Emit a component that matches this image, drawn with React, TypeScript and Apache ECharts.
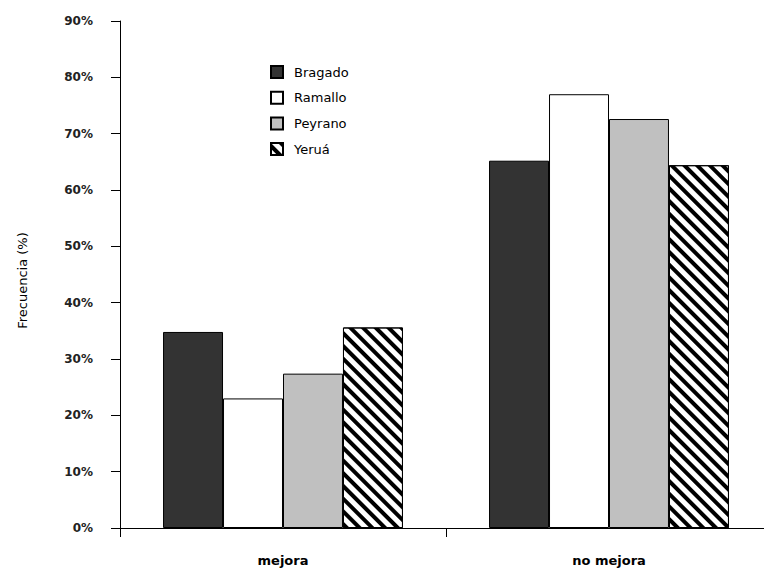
import React, { useEffect, useRef } from "react";
import * as echarts from "echarts";

// Frequency of each outcome per locality (%)
const categories = ["mejora", "no mejora"];
const seriesNames = ["Bragado", "Ramallo", "Peyrano", "Yeruá"];
const bragado = [34.8, 65.2];
const ramallo = [23.0, 77.0];
const peyrano = [27.4, 72.6];
const yerua = [35.6, 64.4];
const yTicks = [0, 10, 20, 30, 40, 50, 60, 70, 80, 90];

const FONT = "DejaVu Sans";

export default function App() {
  const ref = useRef<HTMLDivElement>(null);

  useEffect(() => {
    document.body.style.margin = "0";
    document.body.style.overflow = "hidden";
    if (!ref.current) return;
    const chart = echarts.init(ref.current, null, { renderer: "svg" });

    const border = { borderColor: "#000", borderWidth: 1 };

    chart.setOption({
      animation: false,
      backgroundColor: "#fff",
      // the plot runs a little past the right edge of the visible page
      grid: { left: 120, top: 21, width: 652, height: 507 },
      legend: {
        orient: "vertical",
        left: 270,
        top: 65,
        padding: 0,
        itemWidth: 12,
        itemHeight: 12,
        itemGap: 11.7,
        icon: "rect",
        textStyle: { fontFamily: FONT, fontSize: 13, color: "#000", padding: [0, 0, 0, 6] },
        data: seriesNames,
      },
      xAxis: {
        type: "category",
        data: categories,
        axisLine: { lineStyle: { color: "#000", width: 1 } },
        axisTick: { show: true, length: 9, alignWithLabel: false, lineStyle: { color: "#000" } },
        axisLabel: {
          margin: 26,
          fontFamily: FONT,
          fontSize: 13,
          fontWeight: "bold",
          color: "#000",
        },
      },
      yAxis: {
        type: "value",
        min: 0,
        max: 90,
        interval: 10,
        name: "Frecuencia (%)",
        nameLocation: "middle",
        nameGap: 91,
        nameTextStyle: { fontFamily: FONT, fontSize: 13, color: "#000", padding: [0, 12, 0, 0] },
        splitLine: { show: false },
        axisLine: { show: true, lineStyle: { color: "#000", width: 1 } },
        axisTick: { show: true, length: 9, lineStyle: { color: "#000" } },
        axisLabel: {
          margin: 27,
          fontFamily: FONT,
          fontSize: 12,
          fontWeight: "bold",
          color: "#222",
          formatter: (v: number) => (yTicks.includes(v) ? `${v}%` : ""),
        },
      },
      series: [
        {
          name: seriesNames[0],
          type: "bar",
          data: bragado,
          barGap: "0%",
          barCategoryGap: "26.4%",
          itemStyle: { color: "#333333", ...border },
        },
        {
          name: seriesNames[1],
          type: "bar",
          data: ramallo,
          itemStyle: { color: "#ffffff", ...border },
        },
        {
          name: seriesNames[2],
          type: "bar",
          data: peyrano,
          itemStyle: { color: "#c0c0c0", ...border },
        },
        {
          name: seriesNames[3],
          type: "bar",
          data: yerua,
          itemStyle: {
            color: "#ffffff",
            ...border,
            decal: {
              symbol: "rect",
              symbolSize: 1,
              color: "#000",
              backgroundColor: "#fff",
              dashArrayX: [1, 0],
              dashArrayY: [4, 5],
              rotation: Math.PI / 4,
            },
          },
        },
      ],
    });

    return () => chart.dispose();
  }, []);

  return <div ref={ref} style={{ width: 780, height: 575 }} />;
}
